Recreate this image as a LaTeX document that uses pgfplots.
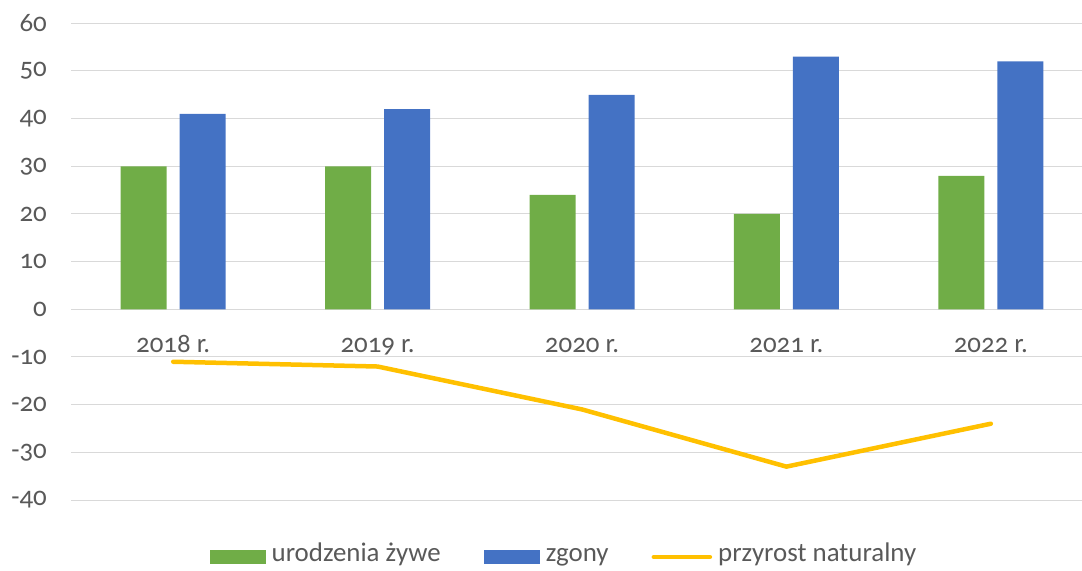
\documentclass[border=0pt]{standalone}
\usepackage{pgfplots}
\pgfplotsset{compat=1.18}
\usepackage{fontspec}
\setmainfont{Carlito}[Numbers=OldStyle]
\definecolor{txt}{HTML}{595959}
\definecolor{gridc}{HTML}{D9D9D9}
\definecolor{cgreen}{HTML}{70AD47}
\definecolor{cblue}{HTML}{4472C4}
\definecolor{cyel}{HTML}{FFC000}
\begin{document}
\begin{tikzpicture}
\useasboundingbox (0,0) rectangle (1082bp,571bp);
\begin{axis}[
  at={(71bp,71bp)}, anchor=south west,
  scale only axis, width=1011bp, height=476.7bp,
  xmin=-0.5, xmax=4.446, ymin=-40, ymax=60,
  ytick={-40,-30,-20,-10,0,10,20,30,40,50,60},
  yticklabels={-40,-30,-20,-10,0,10,20,30,40,50,60},
  xtick={0,1,2,3,4},
  xticklabels={2018 r.,2019 r.,2020 r.,2021 r.,2022 r.},
  axis line style={draw=none}, major tick length=0pt,
  ymajorgrids, grid style={draw=gridc, line width=1bp},
  tick label style={font=\fontsize{27}{31}\selectfont, text=txt},
  yticklabel style={anchor=east, inner sep=0pt, xshift=-24bp},
  xticklabel style={anchor=base, inner sep=0pt, yshift=147.5bp},
  legend columns=3,
  legend style={at={(axis description cs:0.4866,0)}, anchor=center, yshift=-57bp,
    draw=none, fill=none, font=\fontsize{27}{31}\selectfont, text=txt,
    nodes={inner sep=0pt, text height=13bp, text depth=5bp}, column sep=6bp,
    /tikz/every even column/.append style={column sep=43bp}},
]
\addplot[ybar, bar width=46bp, bar shift=-29.5bp, fill=cgreen, draw=none,
  legend image code/.code={\fill[cgreen] (0bp,-7bp) rectangle (56bp,7bp);}]
  coordinates {(0,30) (1,30) (2,24) (3,20) (4,28)};
\addlegendentry{urodzenia żywe}
\addplot[ybar, bar width=46bp, bar shift=29.5bp, fill=cblue, draw=none,
  legend image code/.code={\fill[cblue] (0bp,-7bp) rectangle (56bp,7bp);}]
  coordinates {(0,41) (1,42) (2,45) (3,53) (4,52)};
\addlegendentry{zgony}
\addplot[color=cyel, line width=4.5bp, line cap=round, line join=round, mark=none,
  legend image code/.code={\draw[cyel, line width=4.5bp, line cap=round] (0bp,0bp) -- (56bp,0bp);}]
  coordinates {(0,-11) (1,-12) (2,-21) (3,-33) (4,-24)};
\addlegendentry{przyrost naturalny}
\end{axis}
\end{tikzpicture}
\end{document}
